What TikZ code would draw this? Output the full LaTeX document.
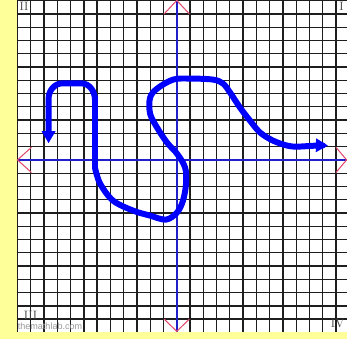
\documentclass[tikz,border=0pt]{standalone}
\usepackage{fontspec}
\usepackage{tikz}
\usetikzlibrary{arrows.meta}
\newfontfamily\wmfont{Liberation Sans}
\definecolor{gridInk}{HTML}{1E1E1E}
\definecolor{axisBlue}{HTML}{2020C8}
\definecolor{chevRed}{HTML}{E4486C}
\definecolor{curveBlue}{HTML}{0000FF}
\definecolor{padYellow}{HTML}{FFFF99}
\tikzset{
  gridline/.style={draw=gridInk, line width=1.4pt},
  axisline/.style={draw=axisBlue, line width=2pt},
  chevron/.style={draw=chevRed, line width=1.1pt},
  curvepath/.style={draw=curveBlue, line width=6.4pt, line join=round, {Triangle[length=13pt,width=14pt]}-{Triangle[length=13pt,width=14pt]}},
  quadlabel/.style={text=black!75, font=\fontsize{13}{13}\selectfont, inner sep=0pt},
  watermark/.style={text=black!40, font=\wmfont\fontsize{9.7}{10}\selectfont, inner sep=0pt},
}

\begin{document}
\begin{tikzpicture}[x=0.5cm, y=0.5cm]
\useasboundingbox (-13.32,-13.47) rectangle (12.83,12.05);
\fill[white] (-13.32,-13.47) rectangle (12.83,12.05);
% yellow margins
\fill[padYellow] (-13.32,-13.47) rectangle (-12,12.05);
\fill[padYellow] (-13.32,-13.47) rectangle (12.83,-12.94);
% grid
\foreach \i in {-12,...,12} {
  \draw[gridline] (\i,-12.94) -- (\i,12.05);
  \draw[gridline] (-12,\i) -- (12.83,\i);
}
% axes
\draw[axisline] (0,12.05) -- (0,-12.94);
\draw[axisline] (-12,0) -- (12.83,0);
% axis ends
\draw[chevron] (-0.95,11) -- (0,12.02) -- (0.95,11);
\draw[chevron] (-0.95,-12) -- (0,-12.92) -- (0.95,-12);
\draw[chevron] (-10.95,0.95) -- (-12,0) -- (-10.95,-0.95);
\draw[chevron] (12,0.95) -- (12.8,0) -- (12,-0.95);
% quadrants
\node[quadlabel] (qII) at (-11.51,11.55) {II};
\node[quadlabel] (qI) at (12.42,11.55) {I};
\node[quadlabel] (qIII) at (-11.02,-11.73) {III};
\node[quadlabel] (qIV) at (12.12,-12.30) {IV};
\node[watermark] (site) at (-9.55,-12.56) {themathlab.com};
% the curve
\draw[curvepath] (-9.66,1.25) -- (-9.66,4.6) to[out=90,in=180] (-8.6,5.77) -- (-7.2,5.77)
  to[out=0,in=90] (-6.16,4.5) -- (-6.16,-0.6)
  -- plot[smooth, tension=0.55] coordinates {(-6.16,-0.6) (-5.78,-1.78) (-4.80,-3.07) (-3.29,-3.82)
  (-2.01,-4.20) (-0.81,-4.50) (0.02,-3.97) (0.47,-3.07) (0.70,-1.79) (0.63,-0.58) (0.02,0.47)
  (-0.73,1.30) (-1.48,2.43) (-2.01,3.49) (-2.01,4.69) (-1.48,5.37) (-0.28,6.05) (1.0,6.13)
  (2.74,6.05) (3.49,5.75) (4.02,5.07) (4.77,3.94) (5.52,2.96) (6.28,2.06) (7.26,1.45)
  (8.31,1.08) (9.07,1.0) (10.57,1.08) (11.40,1.08)};
\end{tikzpicture}
\end{document}
